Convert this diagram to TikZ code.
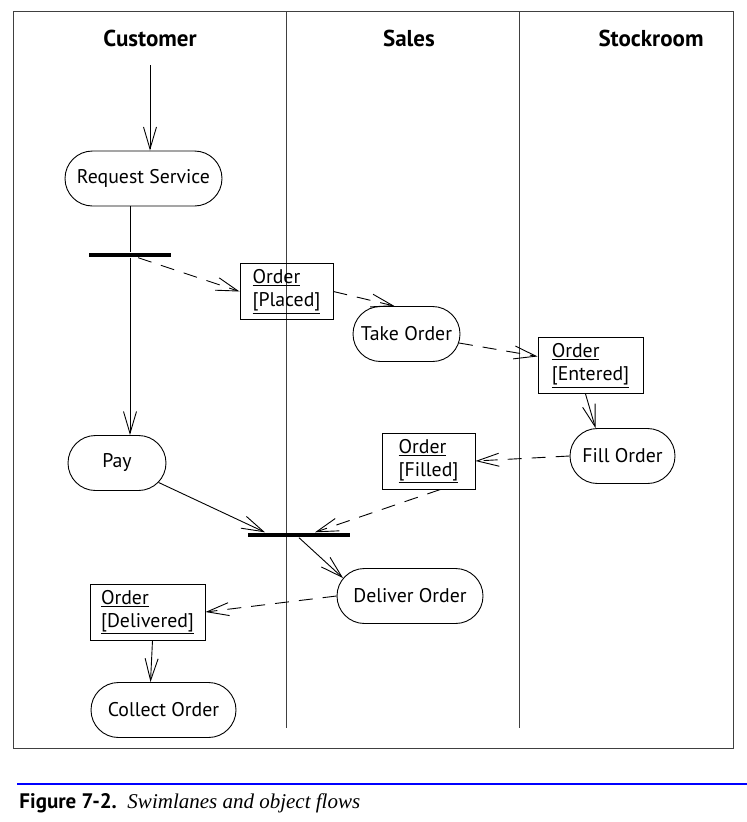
\documentclass[tikz,border=0pt]{standalone}
\usepackage{fontspec}
\setmainfont{PT Sans}
\newfontfamily\captionserif{Liberation Serif}
\usetikzlibrary{arrows.meta,shapes.misc}

\begin{document}
\begin{tikzpicture}
  [x=1pt,y=-1pt,line width=0.9pt,every node/.style={font=\fontsize{19.8}{23}\selectfont}]
 \tikzset{activity/.style={rounded rectangle,draw,minimum height=55pt,inner sep=0pt},
  object/.style={rectangle,draw,align=left,minimum height=56pt,inner xsep=0pt},
  bar/.style={rectangle,fill=black,minimum height=4.5pt,inner sep=0pt},
  lane/.style={font=\fontsize{23}{26}\selectfont\bfseries},
  flow/.style={-{Straight Barb[length=22pt,width=13pt]}},
  objflow/.style={flow,dash pattern=on 14pt off 10pt}}
 \useasboundingbox (0,0) rectangle (747,822);

 % swimlanes
 \draw[black!75] (13,11) rectangle (733,748);
 \draw[black!75] (286,11) -- (286,728);
 \draw[black!75] (519,11) -- (519,728);
 \node[lane] (customer) at (150,38) {Customer};
 \node[lane] (sales) at (409,38) {Sales};
 \node[lane] (stockroom) at (651,38) {Stockroom};

 % activities
 \coordinate (start) at (150,65);
 \node[activity,minimum width=157pt] (rs) at (143.5,178.5) {Request Service};
 \node[activity,minimum width=107pt] (take) at (406.5,334) {Take Order};
 \node[activity,minimum width=105pt] (fill) at (622.5,456) {Fill Order};
 \node[activity,minimum width=98pt] (pay) at (117,463) {Pay};
 \node[activity,minimum width=146pt] (deliver) at (410,596) {Deliver Order};
 \node[activity,minimum width=145pt] (collect) at (163.5,710) {Collect Order};

 % objects
 \node[object,minimum width=93pt] (placed) at (286.5,291.5) {\underline{Order}\\\underline{[Placed]}};
 \node[object,minimum width=105pt] (entered) at (590.5,365.5) {\underline{Order}\\\underline{[Entered]}};
 \node[object,minimum width=93pt] (filled) at (428.5,461) {\underline{Order}\\\underline{[Filled]}};
 \node[object,minimum width=115pt] (delivered) at (147.5,612) {\underline{Order}\\\underline{[Delivered]}};

 % synchronization bars
 \node[bar,minimum width=82pt] (bar1) at (130,255) {};
 \node[bar,minimum width=102pt] (bar2) at (299,535) {};

 % connector ends
 \coordinate (entered out) at ([xshift=-5pt]entered.south);
 \coordinate (fill in) at ([xshift=-27pt]fill.north);
 \coordinate (bar2 left) at ([xshift=-34pt]bar2.north);
 \coordinate (bar2 right) at ([xshift=16pt]bar2.north);
 \coordinate (delivered out) at ([xshift=5pt]delivered.south);
 \coordinate (collect in) at ([xshift=-13pt]collect.north);
 \coordinate (take in) at ([xshift=-12pt]take.north);
 \coordinate (filled out) at ([xshift=12pt]filled.south);

 \draw (bar1 |- rs.south) -- (bar1.north);
 \foreach \from/\to in {start/start |- rs.north,bar1.south/bar1 |- pay.north,
   entered out/fill in,pay/bar2 left,bar2.south/deliver.165,delivered out/collect in}
    \draw[flow] (\from) -- (\to);
 \foreach \from/\to in {bar1/placed.west,placed.east/take in,take/entered,
   fill.west/filled.east,filled out/bar2 right,deliver.west/delivered.east}
    \draw[objflow] (\from) -- (\to);

 % caption
 \draw[blue,line width=2pt] (17,784) -- (747,784);
 \node[anchor=base west,inner sep=0pt] (caption) at (19,808)
  {\fontsize{21}{24}\selectfont\bfseries Figure 7-2.\ \ \captionserif\mdseries\itshape Swimlanes and object flows};
\end{tikzpicture}
\end{document}
